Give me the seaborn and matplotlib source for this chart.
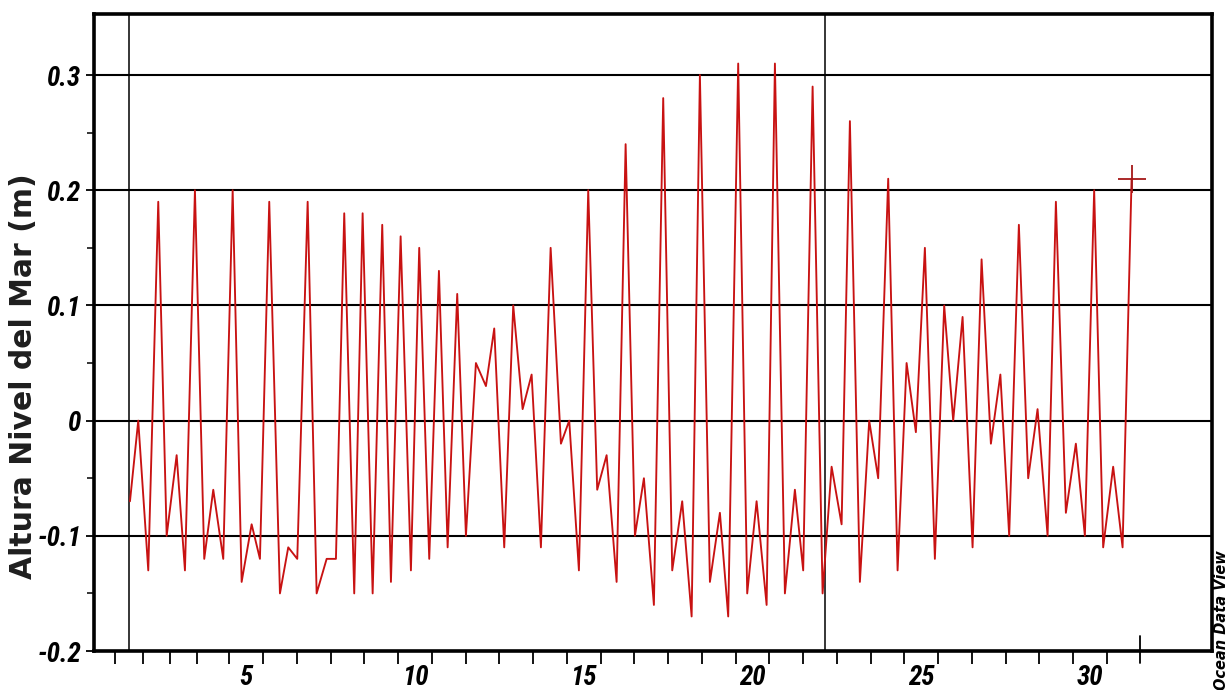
import matplotlib
matplotlib.use("Agg")
import matplotlib.pyplot as plt
from matplotlib import font_manager as fm
import numpy as np
import pandas as pd
import seaborn as sns

# ---------------- data ----------------
time_days = [
    1.556, 1.801, 2.098, 2.394, 2.643, 2.939, 3.185, 3.481, 3.757, 4.024,
    4.320, 4.599, 4.865, 5.161, 5.407, 5.683, 6.000, 6.246, 6.513, 6.821,
    7.087, 7.384, 7.659, 7.905, 8.201, 8.450, 8.747, 9.031, 9.289, 9.576,
    9.881, 10.127, 10.424, 10.711, 10.969, 11.253, 11.511, 11.807, 12.104, 12.350,
    12.646, 12.913, 13.191, 13.458, 13.733, 14.021, 14.326, 14.572, 14.859, 15.135,
    15.401, 15.680, 15.976, 16.243, 16.519, 16.785, 17.081, 17.357, 17.624, 17.920,
    18.199, 18.444, 18.741, 19.037, 19.283, 19.579, 19.846, 20.124, 20.421, 20.667,
    20.963, 21.259, 21.505, 21.784, 22.080, 22.347, 22.643, 22.889, 23.185, 23.461,
    23.727, 24.024, 24.302, 24.569, 24.844, 25.111, 25.407, 25.683, 25.950, 26.228,
    26.524, 26.791, 27.067, 27.348, 27.609, 27.896, 28.172, 28.450, 28.747, 28.993,
    29.289, 29.585, 29.852, 30.127, 30.394, 30.690, 30.969, 31.236,
]
sea_level_m = [
    -0.07, 0.00, -0.13, 0.19, -0.10, -0.03, -0.13, 0.20, -0.12, -0.06,
    -0.12, 0.20, -0.14, -0.09, -0.12, 0.19, -0.15, -0.11, -0.12, 0.19,
    -0.15, -0.12, -0.12, 0.18, -0.15, 0.18, -0.15, 0.17, -0.14, 0.16,
    -0.13, 0.15, -0.12, 0.13, -0.11, 0.11, -0.10, 0.05, 0.03, 0.08,
    -0.11, 0.10, 0.01, 0.04, -0.11, 0.15, -0.02, 0.00, -0.13, 0.20,
    -0.06, -0.03, -0.14, 0.24, -0.10, -0.05, -0.16, 0.28, -0.13, -0.07,
    -0.17, 0.30, -0.14, -0.08, -0.17, 0.31, -0.15, -0.07, -0.16, 0.31,
    -0.15, -0.06, -0.13, 0.29, -0.15, -0.04, -0.09, 0.26, -0.14, 0.00,
    -0.05, 0.21, -0.13, 0.05, -0.01, 0.15, -0.12, 0.10, 0.00, 0.09,
    -0.11, 0.14, -0.02, 0.04, -0.10, 0.17, -0.05, 0.01, -0.10, 0.19,
    -0.08, -0.02, -0.10, 0.20, -0.11, -0.04, -0.11, 0.21,
]

x_label_positions = [5, 10, 15, 20, 25, 30]
x_tick_labels = ["5", "10", "15", "20", "25", "30"]
x_day_boundaries = [1.1, 1.95, 2.75, 3.55] + [d + 0.5 for d in range(4, 31)]
x_end_marker = 31.5
x_reference_lines = [1.535, 22.15]

y_tick_values = [-0.2, -0.1, 0.0, 0.1, 0.2, 0.3]
y_tick_labels = ["-0.2", "-0.1", "0", "0.1", "0.2", "0.3"]
y_minor_values = [-0.15, -0.05, 0.05, 0.15, 0.25]

y_title = "Altura Nivel del Mar (m)"
credit = "Ocean Data View"

# ---------------- fonts ----------------
sns.set_theme(style="white")
avail = {f.name for f in fm.fontManager.ttflist}
if "Liberation Sans Narrow" in avail:
    tick_family, tick_size = "Liberation Sans Narrow", 20
elif "Roboto Condensed" in avail:
    tick_family, tick_size = "Roboto Condensed", 19.5
else:
    tick_family, tick_size = "DejaVu Sans", 15
plt.rcParams["font.family"] = ["DejaVu Sans"]

tick_fp = fm.FontProperties(family=tick_family, weight="bold", style="italic",
                            size=tick_size, stretch="condensed")

# ---------------- figure ----------------
fig = plt.figure(figsize=(12.3, 6.9), dpi=100)
fig.patch.set_facecolor("white")
ax = fig.add_axes([94 / 1230, 0.0565, (1211.7 - 94) / 1230, 0.9232])
ax.set_facecolor("white")

df = pd.DataFrame({"t": time_days, "h": sea_level_m})

# grid and reference lines
ax.set_yticks(y_tick_values)
ax.set_yticks(y_minor_values, minor=True)
ax.grid(axis="y", which="major", color="black", lw=1.5, zorder=1)
ax.grid(axis="x", visible=False)
for xv in x_reference_lines:
    ax.axvline(xv, color="black", lw=1.1, zorder=1)

sns.lineplot(data=df, x="t", y="h", ax=ax, color="#c81212", lw=1.35,
             sort=False, estimator=None, zorder=3)
ax.plot(df["t"].iloc[-1], df["h"].iloc[-1], marker="+", ms=20, mew=1.3,
        color="#a51818", zorder=4)

ax.set_xlim(0.49, 33.61)
ax.set_ylim(-0.2, 0.353)

# x ticks: labels centred on days, marks at day boundaries
ax.set_xticks(x_label_positions)
ax.set_xticklabels(x_tick_labels)
ax.set_xticks(x_day_boundaries, minor=True)
ax.tick_params(axis="x", which="major", length=0, pad=9, bottom=True)
ax.tick_params(axis="x", which="minor", length=9, width=1.3, color="black",
               direction="out", bottom=True)
ax.axvline(x_end_marker, ymin=-0.019, ymax=0.024, clip_on=False,
           color="black", lw=1.3)

ax.set_yticklabels(y_tick_labels)
ax.tick_params(axis="y", which="major", length=6, width=1.3, color="black",
               direction="out", left=True, pad=3)
ax.tick_params(axis="y", which="minor", length=5, width=1.1, color="black",
               direction="out", left=True)

for lab in ax.get_xticklabels() + ax.get_yticklabels():
    lab.set_fontproperties(tick_fp)
    lab.set_color("black")

for sp in ax.spines.values():
    sp.set_visible(True)
    sp.set_color("black")
    sp.set_linewidth(2.6)

ax.set_xlabel("")
ax.set_ylabel(y_title, fontsize=21.5, fontweight="bold", color="#1e1e1e",
              family=["DejaVu Sans"])
ax.yaxis.label.set_va("center")
ax.yaxis.set_label_coords((24 - 94) / (1211.7 - 94), 0.432)

fig.text(1222 / 1230, 1 - 620 / 690, credit, rotation=90, ha="center",
         va="center", fontsize=10.5, fontweight="bold", style="italic",
         color="black")

fig.savefig("out.png", dpi=100, facecolor="white")
